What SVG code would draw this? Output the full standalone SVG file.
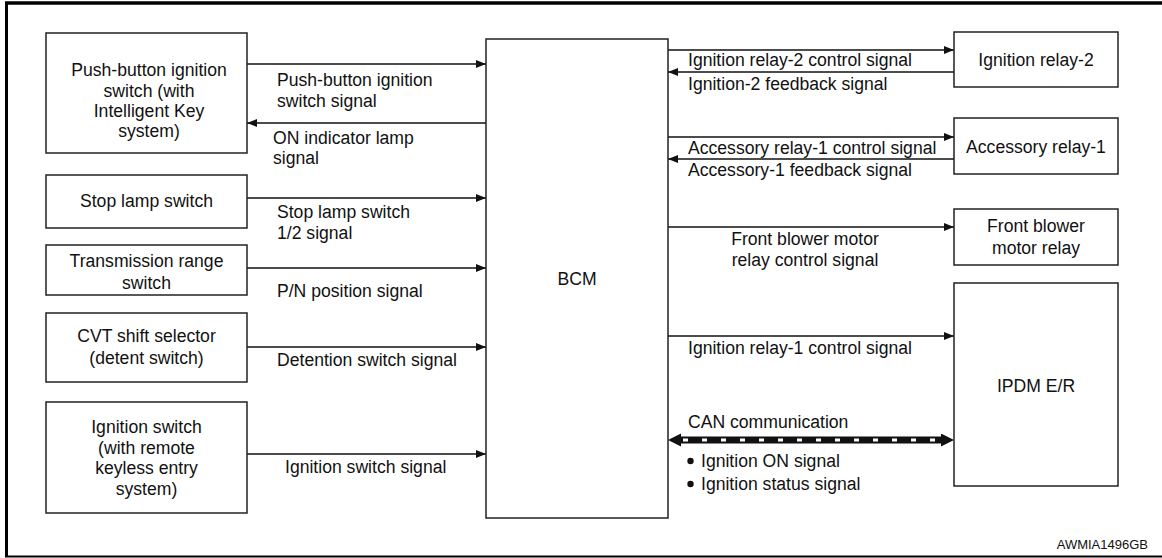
<svg xmlns="http://www.w3.org/2000/svg" width="1162" height="558" viewBox="0 0 1162 558">
<defs>
<style>
text{font-family:"Liberation Sans",Arial,sans-serif;font-size:17.6px;fill:#111}
.c{text-anchor:middle}
.box{fill:#fff;stroke:#222;stroke-width:1.5}
.w{stroke:#111;stroke-width:1.5;fill:none;marker-end:url(#ah)}
.can{stroke:#111;stroke-width:7;fill:none;marker-start:url(#big);marker-end:url(#big)}
.dash{stroke:#fff;stroke-width:3;stroke-dasharray:5 14;fill:none}
</style>
<marker id="ah" markerUnits="userSpaceOnUse" markerWidth="11" markerHeight="9" refX="10" refY="4" orient="auto"><path d="M0,0 L10,4 L0,8 z" fill="#111"/></marker>
<marker id="big" markerUnits="userSpaceOnUse" markerWidth="14" markerHeight="14" refX="0" refY="6.5" orient="auto-start-reverse"><path d="M0,0 L13,6.5 L0,13 z" fill="#111"/></marker>
</defs>
<rect width="1162" height="558" fill="#fff"/>
<g id="frame">
<line x1="6.5" y1="3" x2="6.5" y2="557" stroke="#000" stroke-width="3"/>
<line x1="5" y1="3" x2="1162" y2="3" stroke="#000" stroke-width="3.5"/>
<line x1="5" y1="556.5" x2="1162" y2="556.5" stroke="#000" stroke-width="2"/>
</g>
<g id="connectors">
<line class="w" x1="247" y1="64" x2="486" y2="64"/>
<line class="w" x1="486" y1="123" x2="247" y2="123"/>
<line class="w" x1="247" y1="198" x2="486" y2="198"/>
<line class="w" x1="247" y1="268" x2="486" y2="268"/>
<line class="w" x1="247" y1="347" x2="486" y2="347"/>
<line class="w" x1="247" y1="454" x2="486" y2="454"/>
<line class="w" x1="668" y1="50" x2="954" y2="50"/>
<line class="w" x1="954" y1="72" x2="668" y2="72"/>
<line class="w" x1="668" y1="137" x2="954" y2="137"/>
<line class="w" x1="954" y1="159" x2="668" y2="159"/>
<line class="w" x1="668" y1="227" x2="954" y2="227"/>
<line class="w" x1="668" y1="336" x2="954" y2="336"/>
<line class="can" x1="681" y1="440" x2="941" y2="440"/>
<line class="dash" x1="683" y1="440" x2="941" y2="440"/>
<text x="277" y="86">Push-button ignition</text>
<text x="277" y="107">switch signal</text>
<text x="273" y="144">ON indicator lamp</text>
<text x="273" y="164">signal</text>
<text x="277" y="218">Stop lamp switch</text>
<text x="277" y="239">1/2 signal</text>
<text x="277" y="297">P/N position signal</text>
<text x="277" y="366">Detention switch signal</text>
<text x="285" y="473">Ignition switch signal</text>
<text x="688" y="66">Ignition relay-2 control signal</text>
<text x="688" y="90">Ignition-2 feedback signal</text>
<text x="688" y="154">Accessory relay-1 control signal</text>
<text x="688" y="176">Accessory-1 feedback signal</text>
<text class="c" x="805" y="245">Front blower motor</text>
<text class="c" x="805" y="266">relay control signal</text>
<text x="688" y="354">Ignition relay-1 control signal</text>
<text x="688" y="428">CAN communication</text>
<circle cx="690.5" cy="461" r="3.2" fill="#111"/>
<text x="701" y="467">Ignition ON signal</text>
<circle cx="690.5" cy="484" r="3.2" fill="#111"/>
<text x="701" y="490">Ignition status signal</text>
</g>
<g id="push-button">
<rect class="box" x="46" y="33" width="201" height="120"/>
<text class="c" x="149" y="76">Push-button ignition</text>
<text class="c" x="149" y="97">switch (with</text>
<text class="c" x="149" y="117">Intelligent Key</text>
<text class="c" x="149" y="137">system)</text>
</g>
<g id="stop-lamp">
<rect class="box" x="46" y="175" width="201" height="53"/>
<text class="c" x="146.5" y="207">Stop lamp switch</text>
</g>
<g id="transmission">
<rect class="box" x="46" y="245" width="201" height="50"/>
<text class="c" x="146.5" y="267">Transmission range</text>
<text class="c" x="146.5" y="289">switch</text>
</g>
<g id="cvt">
<rect class="box" x="46" y="313" width="201" height="69"/>
<text class="c" x="146.5" y="342">CVT shift selector</text>
<text class="c" x="146.5" y="364">(detent switch)</text>
</g>
<g id="ignition-switch">
<rect class="box" x="46" y="402" width="201" height="111"/>
<text class="c" x="146.5" y="433">Ignition switch</text>
<text class="c" x="146.5" y="454">(with remote</text>
<text class="c" x="146.5" y="474">keyless entry</text>
<text class="c" x="146.5" y="495">system)</text>
</g>
<g id="bcm">
<rect class="box" x="486" y="39" width="182" height="479"/>
<text class="c" x="577" y="285">BCM</text>
</g>
<g id="ignition-relay-2">
<rect class="box" x="954" y="32" width="164" height="55"/>
<text class="c" x="1036" y="66">Ignition relay-2</text>
</g>
<g id="accessory-relay-1">
<rect class="box" x="954" y="118" width="164" height="56"/>
<text class="c" x="1036" y="153">Accessory relay-1</text>
</g>
<g id="front-blower">
<rect class="box" x="954" y="209" width="164" height="56"/>
<text class="c" x="1036" y="232">Front blower</text>
<text class="c" x="1036" y="254">motor relay</text>
</g>
<g id="ipdm">
<rect class="box" x="954" y="283" width="164" height="203"/>
<text class="c" x="1036" y="392">IPDM E/R</text>
</g>
<text x="1148" y="549" style="font-size:13px;text-anchor:end">AWMIA1496GB</text>
</svg>
